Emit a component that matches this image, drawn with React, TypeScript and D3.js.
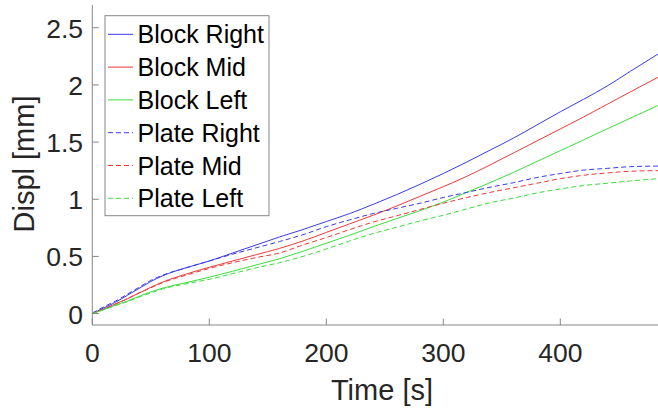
import React from "react";
import * as d3 from "d3";

const time = [0, 10, 20, 30, 40, 50, 60, 80, 100, 120, 140, 160, 180, 200, 220, 240, 260, 280, 300, 320, 340, 360, 380, 400, 420, 440, 460, 483.5];

const blockRight = [0, 0.05, 0.1, 0.16, 0.22, 0.28, 0.33, 0.4, 0.46, 0.53, 0.6, 0.67, 0.735, 0.805, 0.875, 0.955, 1.04, 1.13, 1.225, 1.325, 1.43, 1.535, 1.65, 1.765, 1.875, 1.99, 2.12, 2.27];
const blockMid = [0, 0.04, 0.085, 0.13, 0.18, 0.23, 0.275, 0.345, 0.405, 0.46, 0.515, 0.57, 0.635, 0.71, 0.785, 0.86, 0.94, 1.025, 1.11, 1.2, 1.3, 1.405, 1.51, 1.615, 1.72, 1.83, 1.94, 2.067];
const blockLeft = [0, 0.035, 0.075, 0.11, 0.15, 0.19, 0.222, 0.27, 0.318, 0.37, 0.425, 0.48, 0.545, 0.615, 0.685, 0.76, 0.83, 0.9, 0.975, 1.06, 1.145, 1.235, 1.33, 1.425, 1.52, 1.615, 1.71, 1.82];
const plateRight = [0.005, 0.06, 0.11, 0.17, 0.23, 0.29, 0.335, 0.4, 0.46, 0.52, 0.575, 0.63, 0.69, 0.76, 0.82, 0.875, 0.92, 0.965, 1.015, 1.06, 1.105, 1.145, 1.19, 1.225, 1.255, 1.27, 1.285, 1.29];
const plateMid = [0, 0.04, 0.085, 0.13, 0.18, 0.225, 0.27, 0.335, 0.395, 0.445, 0.49, 0.53, 0.6, 0.665, 0.735, 0.8, 0.855, 0.91, 0.965, 1.015, 1.06, 1.1, 1.14, 1.18, 1.21, 1.23, 1.245, 1.25];
const plateLeft = [0, 0.035, 0.07, 0.105, 0.145, 0.18, 0.215, 0.26, 0.3, 0.35, 0.4, 0.445, 0.5, 0.565, 0.635, 0.7, 0.755, 0.81, 0.86, 0.915, 0.97, 1.01, 1.055, 1.09, 1.12, 1.14, 1.16, 1.18];

const seriesNames = ["Block Right", "Block Mid", "Block Left", "Plate Right", "Plate Mid", "Plate Left"];
const seriesValues = [blockRight, blockMid, blockLeft, plateRight, plateMid, plateLeft];
const seriesColors = ["#3a3aee", "#ee3a3a", "#3ade3a", "#3a3aee", "#ee3a3a", "#3ade3a"];
const seriesDashed = [false, false, false, true, true, true];

const xTicks = [0, 100, 200, 300, 400];
const yTicks = [0, 0.5, 1, 1.5, 2, 2.5];

const W = 658;
const H = 409;
const left = 92.3;
const right = 658;
const top = 4.9;
const bottom = 325;

export default function App() {
  const x = d3.scaleLinear().domain([0, 483.5]).range([left, right]);
  const y = d3.scaleLinear().domain([-0.1, 2.7]).range([bottom, top]);
  const axisColor = "#858585";
  const textColor = "#262626";
  const font = "'Liberation Sans', Arial, Helvetica, sans-serif";

  const line = (vals: number[]) =>
    d3
      .line<number>()
      .x((_, i) => x(time[i]))
      .y((v) => y(v))
      .curve(d3.curveMonotoneX)(vals) || "";

  return (
    <svg
      width={W}
      height={H}
      style={{ position: "absolute", left: 0, top: 0, display: "block", background: "#fff" }}
      fontFamily={font}
    >
      <defs>
        <clipPath id="plot">
          <rect x={left} y={top} width={right - left} height={bottom - top} />
        </clipPath>
      </defs>
      <rect x={0} y={0} width={W} height={H} fill="#fff" />

      <g clipPath="url(#plot)">
        {seriesValues.map((vals, i) => (
          <path
            key={i}
            d={line(vals)}
            fill="none"
            stroke={seriesColors[i]}
            strokeWidth={1}
            strokeDasharray={seriesDashed[i] ? "5,3" : undefined}
          />
        ))}
      </g>

      {/* axes */}
      <line x1={left} y1={top} x2={left} y2={bottom} stroke={axisColor} strokeWidth={1} />
      <line x1={left} y1={bottom} x2={right} y2={bottom} stroke={axisColor} strokeWidth={1} />
      {xTicks.map((t) => (
        <g key={"x" + t}>
          <line x1={x(t)} x2={x(t)} y1={bottom} y2={bottom - 6.5} stroke={axisColor} strokeWidth={1} />
          <text x={x(t)} y={361.5} textAnchor="middle" fontSize={26.5} fill={textColor}>
            {t}
          </text>
        </g>
      ))}
      {yTicks.map((t) => (
        <g key={"y" + t}>
          <line x1={left} x2={left + 6.5} y1={y(t)} y2={y(t)} stroke={axisColor} strokeWidth={1} />
          <text x={83} y={y(t) + 10} textAnchor="end" fontSize={26.5} fill={textColor}>
            {t}
          </text>
        </g>
      ))}

      <text x={382} y={400} textAnchor="middle" fontSize={29} fill={textColor}>
        Time [s]
      </text>
      <text
        transform={`translate(34,164) rotate(-90)`}
        textAnchor="middle"
        fontSize={29}
        fill={textColor}
      >
        Displ [mm]
      </text>

      {/* legend */}
      <rect x={105} y={15.7} width={164} height={200} fill="#fff" stroke={axisColor} strokeWidth={1} />
      {seriesNames.map((name, i) => {
        const cy = 34.3 + i * 32.8;
        return (
          <g key={name}>
            <line
              x1={108}
              x2={133}
              y1={cy}
              y2={cy}
              stroke={seriesColors[i]}
              strokeWidth={1}
              strokeDasharray={seriesDashed[i] ? "5,3" : undefined}
            />
            <text x={137.5} y={cy + 9} fontSize={25} fill="#000">
              {name}
            </text>
          </g>
        );
      })}
    </svg>
  );
}
